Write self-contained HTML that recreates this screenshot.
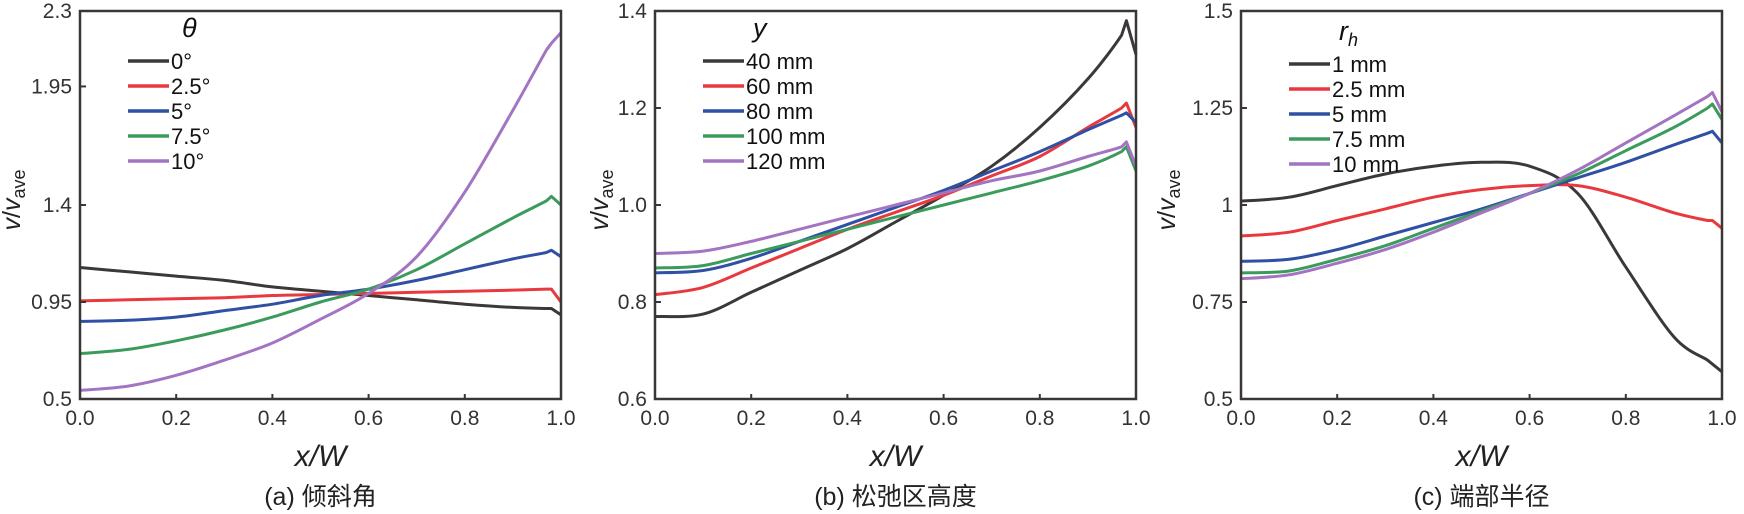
<!DOCTYPE html>
<html><head><meta charset="utf-8"><style>
html,body{margin:0;padding:0;background:#fff;}
svg{display:block;font-family:"Liberation Sans","Noto Sans CJK SC",sans-serif;}
</style></head><body>
<svg id="fig" width="1744" height="514" viewBox="0 0 1744 514"></svg>
<script>
const xs=[0,0.1,0.2,0.3,0.4,0.5,0.6,0.7,0.8,0.9,0.97,0.98,1.0];
const xTicks=[0,0.2,0.4,0.6,0.8,1.0];
const xTickLabels=["0.0","0.2","0.4","0.6","0.8","1.0"];
const colors=["#3c3838","#e8393f","#2f50a3","#3b9b5c","#a274c2"];
// panel a
const aNames=["0°","2.5°","5°","7.5°","10°"];
const aYTicks=[0.5,0.95,1.4,1.95,2.3];
const aYLabels=["0.5","0.95","1.4","1.95","2.3"];
const a0=[1.11,1.09,1.07,1.05,1.02,1.0,0.98,0.96,0.94,0.925,0.92,0.92,0.89];
const a1=[0.955,0.96,0.965,0.97,0.98,0.985,0.99,0.995,1.0,1.005,1.01,1.01,0.95];
const a2=[0.86,0.865,0.88,0.91,0.94,0.98,1.01,1.05,1.10,1.15,1.18,1.19,1.16];
const a3=[0.71,0.73,0.77,0.82,0.88,0.95,1.01,1.10,1.22,1.34,1.42,1.44,1.40];
const a4=[0.54,0.56,0.61,0.68,0.76,0.87,0.99,1.16,1.46,1.84,2.12,2.15,2.2];
// panel b
const bNames=["40 mm","60 mm","80 mm","100 mm","120 mm"];
const bYTicks=[0.6,0.8,1.0,1.2,1.4];
const bYLabels=["0.6","0.8","1.0","1.2","1.4"];
const b0=[0.77,0.775,0.82,0.865,0.91,0.965,1.02,1.08,1.16,1.26,1.35,1.38,1.31];
const b1=[0.815,0.83,0.87,0.91,0.95,0.985,1.02,1.06,1.10,1.16,1.2,1.21,1.16];
const b2=[0.86,0.865,0.89,0.925,0.96,0.995,1.03,1.07,1.11,1.155,1.185,1.19,1.17];
const b3=[0.87,0.875,0.9,0.925,0.95,0.975,1.0,1.025,1.05,1.08,1.11,1.12,1.07];
const b4=[0.9,0.905,0.925,0.95,0.975,1.0,1.025,1.05,1.07,1.10,1.12,1.13,1.08];
// panel c
const cNames=["1 mm","2.5 mm","5 mm","7.5 mm","10 mm"];
const cYTicks=[0.5,0.75,1,1.25,1.5];
const cYLabels=["0.5","0.75","1","1.25","1.5"];
const c0=[1.01,1.02,1.05,1.08,1.10,1.11,1.10,1.03,0.84,0.66,0.60,0.59,0.57];
const c1=[0.92,0.93,0.96,0.99,1.02,1.04,1.05,1.05,1.02,0.98,0.96,0.96,0.94];
const c2=[0.855,0.86,0.885,0.92,0.955,0.99,1.03,1.07,1.11,1.155,1.185,1.19,1.16];
const c3=[0.825,0.83,0.86,0.895,0.94,0.985,1.03,1.08,1.14,1.20,1.25,1.26,1.22];
const c4=[0.81,0.82,0.85,0.885,0.93,0.98,1.03,1.09,1.16,1.23,1.28,1.29,1.24];

const NS="http://www.w3.org/2000/svg";
const svg=document.getElementById('fig');
function mk(tag,attrs,parent){const e=document.createElementNS(NS,tag);for(const k in attrs)e.setAttribute(k,attrs[k]);(parent||svg).appendChild(e);return e;}
function smoothPath(pts){
  let d="M"+pts[0][0].toFixed(1)+","+pts[0][1].toFixed(1);
  for(let i=0;i<pts.length-1;i++){
    const p0=pts[Math.max(0,i-1)],p1=pts[i],p2=pts[i+1],p3=pts[Math.min(pts.length-1,i+2)];
    const t=(i>=pts.length-3)?0:1/6;
    const c1x=p1[0]+(p2[0]-p0[0])*t,c1y=p1[1]+(p2[1]-p0[1])*t;
    const c2x=p2[0]-(p3[0]-p1[0])*t,c2y=p2[1]-(p3[1]-p1[1])*t;
    d+=" C"+c1x.toFixed(1)+","+c1y.toFixed(1)+" "+c2x.toFixed(1)+","+c2y.toFixed(1)+" "+p2[0].toFixed(1)+","+p2[1].toFixed(1);
  }
  return d;
}
function panel(o){
  const g=mk('g',{});
  
  
  const L=o.left,R=o.left+481,T=11,B=399;
  const sx=v=>L+v*(R-L);
  const sy=v=>B-(v-o.ymin)/(o.ymax-o.ymin)*(B-T);
  o.series.forEach((s,i)=>{
    const pts=xs.map((x,j)=>[sx(x),sy(s[j])]);
    const p=mk('path',{d:smoothPath(pts),fill:'none',stroke:colors[i],'stroke-width':3,'stroke-linejoin':'round'},g);
    
    
  });
  const fr=mk('rect',{x:L,y:T,width:R-L,height:B-T,fill:'none',stroke:'#3a3636','stroke-width':2.5},g);
  
  
  xTicks.forEach((v,i)=>{
    mk('line',{x1:sx(v),x2:sx(v),y1:B,y2:B-5,stroke:'#3a3636','stroke-width':2},g);
    const t=mk('text',{x:sx(v),y:425,'font-size':21,'text-anchor':'middle',fill:'#333'},g);
    t.textContent=xTickLabels[i];
    
    
  });
  o.yt.forEach((v,i)=>{
    mk('line',{x1:L,x2:L+6,y1:sy(v),y2:sy(v),stroke:'#3a3636','stroke-width':2},g);
    const t=mk('text',{x:L-8,y:sy(v)+7,'font-size':21,'text-anchor':'end',fill:'#333'},g);
    t.textContent=o.yl[i];
    
    
  });
  const yl=mk('text',{transform:`translate(${o.ylx},200) rotate(-90)`,'font-size':25,'text-anchor':'middle',fill:'#222'},g);
  yl.innerHTML='<tspan font-style="italic">v</tspan>/<tspan font-style="italic">v</tspan><tspan font-size="18" dy="5">ave</tspan>';
  
  
  const xl=mk('text',{x:(L+R)/2,y:466,'font-size':30,'text-anchor':'middle','font-style':'italic',fill:'#222'},g);
  xl.textContent='x/W';
  
  
  const cap=mk('text',{x:(L+R)/2,y:505,'font-size':25,'text-anchor':'middle',fill:'#222'},g);
  cap.textContent=o.caption;
  
  
  const lg=mk('g',{},g);
  
  
  const tt=mk('text',{x:o.lx+o.tdx,y:o.ly-24,'font-size':27,'font-style':'italic',fill:'#111'},lg);
  tt.innerHTML=o.title;
  
  
  o.names.forEach((n,i)=>{
    const y=o.ly+i*25;
    mk('line',{x1:o.lx,x2:o.lx+41,y1:y,y2:y,stroke:colors[i],'stroke-width':3.5},lg);
    const t=mk('text',{x:o.lx+43,y:y+8,'font-size':22,fill:'#111'},lg);
    t.textContent=n;
    
    
  });
}
panel({id:'panel-a-tilt-angle',left:80,ymin:0.5,ymax:2.3,yt:aYTicks,yl:aYLabels,series:[a0,a1,a2,a3,a4],names:aNames,caption:'(a) 倾斜角',title:'θ',lx:128,ly:61,tdx:54,ylx:20});
panel({id:'panel-b-loose-zone-height',left:655,ymin:0.6,ymax:1.4,yt:bYTicks,yl:bYLabels,series:[b0,b1,b2,b3,b4],names:bNames,caption:'(b) 松弛区高度',title:'y',lx:703,ly:61,tdx:50,ylx:608});
panel({id:'panel-c-end-radius',left:1241,ymin:0.5,ymax:1.5,yt:cYTicks,yl:cYLabels,series:[c0,c1,c2,c3,c4],names:cNames,caption:'(c) 端部半径',title:'r<tspan font-size="18" dy="6">h</tspan>',lx:1289,ly:64,tdx:50,ylx:1175});
</script>
</body></html>
